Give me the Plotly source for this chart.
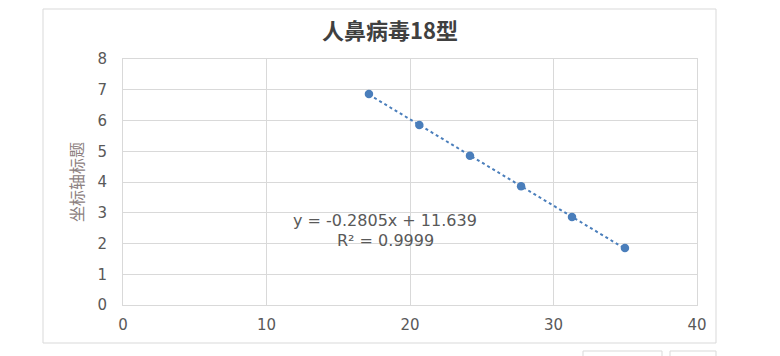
import numpy as np
import plotly.graph_objects as go

# Data
ct_values = [17.14, 20.65, 24.18, 27.74, 31.29, 34.98]
log_conc = [6.86, 5.85, 4.85, 3.86, 2.86, 1.85]
x_ticks = [0, 10, 20, 30, 40]
y_ticks = [0, 1, 2, 3, 4, 5, 6, 7, 8]
title_text = "人鼻病毒18型"
y_title = "坐标轴标题"
eq_text = "y = -0.2805x + 11.639"
r2_text = "R² = 0.9999"

blue = "#4a7ebb"
grid = "#d9d9d9"
txt = "#595959"

# linear trendline from the data
slope, intercept = np.polyfit(ct_values, log_conc, 1)
tx = np.array([min(ct_values), max(ct_values)])
ty = slope * tx + intercept

fig = go.Figure()
fig.add_trace(go.Scatter(x=tx, y=ty, mode="lines",
                         line=dict(color=blue, width=2, dash="dot"),
                         hoverinfo="skip", showlegend=False))
fig.add_trace(go.Scatter(x=ct_values, y=log_conc, mode="markers",
                         marker=dict(color=blue, size=8.5),
                         showlegend=False))

W, H = 780, 356
L, R, T, B = 123, 697, 59, 305
pw, ph = R - L, B - T

def px(x):
    return (x - L) / pw

def py(y):
    return (B - y) / ph

font = "DejaVu Sans, sans-serif"
fig.update_layout(
    width=W, height=H,
    margin=dict(l=L, r=W - R, t=T, b=H - B),
    paper_bgcolor="white", plot_bgcolor="white",
    xaxis=dict(range=[0, 40], tickvals=x_ticks, showgrid=True, gridcolor=grid,
               gridwidth=1, zeroline=False, showline=True, linecolor=grid,
               linewidth=1, mirror=True, ticks="", ticklabelstandoff=6,
               tickfont=dict(family=font, size=15, color=txt)),
    yaxis=dict(range=[0, 8], tickvals=y_ticks, showgrid=True, gridcolor=grid,
               gridwidth=1, zeroline=False, showline=True, linecolor=grid,
               linewidth=1, mirror=True, ticks="", ticklabelstandoff=12,
               tickfont=dict(family=font, size=15, color=txt)),
    font=dict(family=font, color=txt),
)

annotations = [
    dict(text="<b>" + title_text + "</b>", x=px(390), y=py(29), xref="paper", yref="paper",
         showarrow=False, font=dict(family="Noto Sans CJK SC, sans-serif", size=22, color="#404040"),
         xanchor="center", yanchor="middle"),
    dict(text=y_title, x=px(76), y=py(182), xref="paper", yref="paper", textangle=-90,
         showarrow=False, font=dict(family="Noto Sans CJK SC, sans-serif", size=16, color="#8c8080"),
         xanchor="center", yanchor="middle"),
    dict(text=eq_text, x=px(385), y=py(221), xref="paper", yref="paper",
         showarrow=False, font=dict(family=font, size=16, color=txt),
         xanchor="center", yanchor="middle"),
    dict(text=r2_text, x=px(385), y=py(240), xref="paper", yref="paper",
         showarrow=False, font=dict(family=font, size=16, color=txt),
         xanchor="center", yanchor="middle"),
]
fig.update_layout(annotations=annotations)

shapes = [
    dict(type="rect", xref="paper", yref="paper", x0=px(43), x1=px(716), y0=py(343), y1=py(9),
         line=dict(color="#d9d9d9", width=1), layer="below"),
    dict(type="rect", xref="paper", yref="paper", x0=px(583), x1=px(662), y0=py(362), y1=py(351),
         line=dict(color="#d9d9d9", width=1)),
    dict(type="rect", xref="paper", yref="paper", x0=px(670), x1=px(716), y0=py(362), y1=py(351),
         line=dict(color="#d9d9d9", width=1)),
]
fig.update_layout(shapes=shapes)

fig.write_html("out.html")
